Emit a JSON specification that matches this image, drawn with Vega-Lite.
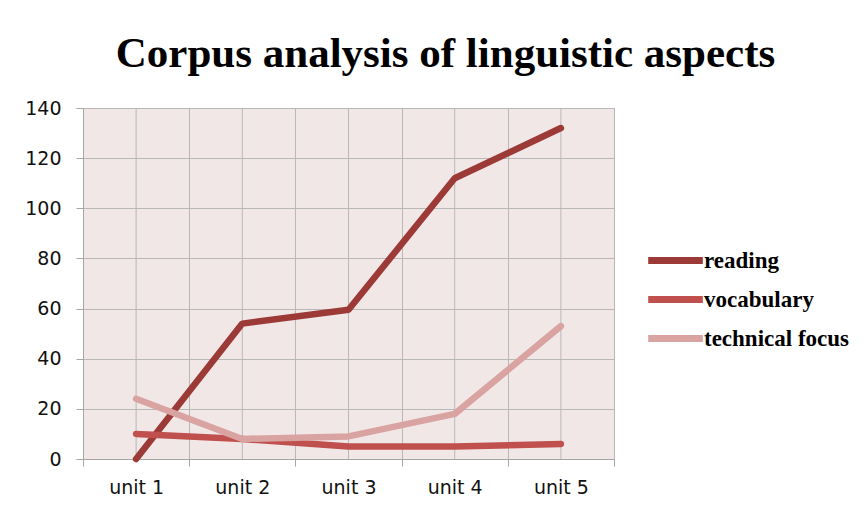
{
  "$schema": "https://vega.github.io/schema/vega-lite/v6.json",
  "width": 531,
  "height": 351,
  "autosize": {"type": "none"},
  "padding": {"left": 83, "top": 108, "right": 254, "bottom": 53},
  "background": "white",
  "title": {
    "text": "Corpus analysis of linguistic aspects",
    "font": "Liberation Serif",
    "fontSize": 43,
    "fontWeight": "bold",
    "color": "black",
    "anchor": "middle",
    "baseline": "alphabetic",
    "dx": 97,
    "offset": -11
  },
  "config": {
    "view": {"fill": "#f2e7e7", "stroke": "#a6a6a6"}
  },
  "data": {
    "values": [
      {"unit": "unit 1", "series": "reading", "value": 0},
      {"unit": "unit 2", "series": "reading", "value": 54},
      {"unit": "unit 3", "series": "reading", "value": 59.5},
      {"unit": "unit 4", "series": "reading", "value": 112},
      {"unit": "unit 5", "series": "reading", "value": 132},
      {"unit": "unit 1", "series": "vocabulary", "value": 10},
      {"unit": "unit 2", "series": "vocabulary", "value": 8},
      {"unit": "unit 3", "series": "vocabulary", "value": 5},
      {"unit": "unit 4", "series": "vocabulary", "value": 5},
      {"unit": "unit 5", "series": "vocabulary", "value": 6},
      {"unit": "unit 1", "series": "technical focus", "value": 24},
      {"unit": "unit 2", "series": "technical focus", "value": 8},
      {"unit": "unit 3", "series": "technical focus", "value": 9},
      {"unit": "unit 4", "series": "technical focus", "value": 18},
      {"unit": "unit 5", "series": "technical focus", "value": 53}
    ]
  },
  "layer": [
    {
      "transform": [{"filter": "datum.series === 'reading'"}],
      "mark": {"type": "rule", "color": "#b8b8b8", "strokeWidth": 1},
      "encoding": {
        "x": {"field": "unit", "type": "ordinal", "bandPosition": 0.5}
      }
    },
    {
      "mark": {"type": "line", "strokeWidth": 6.5, "strokeCap": "round", "strokeJoin": "round"},
      "encoding": {
        "x": {
          "field": "unit",
          "type": "ordinal",
          "bandPosition": 0.5,
          "scale": {"type": "band", "paddingInner": 0, "paddingOuter": 0},
          "axis": {
            "title": null,
            "labelAngle": 0,
            "labelAlign": "center",
            "tickBand": "extent",
            "grid": true,
            "gridColor": "#b8b8b8",
            "domainColor": "#a6a6a6",
            "tickColor": "#a6a6a6",
            "tickSize": 7,
            "labelFont": "DejaVu Sans",
            "labelFontSize": 19,
            "labelColor": "#111111",
            "labelPadding": 21
          }
        },
        "y": {
          "field": "value",
          "type": "quantitative",
          "scale": {"domain": [0, 140], "nice": false},
          "axis": {
            "title": null,
            "values": [0, 20, 40, 60, 80, 100, 120, 140],
            "grid": true,
            "gridColor": "#b8b8b8",
            "domainColor": "#a6a6a6",
            "tickColor": "#a6a6a6",
            "tickSize": 7,
            "labelFont": "DejaVu Sans",
            "labelFontSize": 19,
            "labelColor": "#111111",
            "labelPadding": 15
          }
        },
        "color": {
          "field": "series",
          "type": "nominal",
          "scale": {
            "domain": ["reading", "vocabulary", "technical focus"],
            "range": ["#9b3a37", "#c0504d", "#d9a3a2"]
          },
          "legend": {
            "title": null,
            "orient": "none",
            "legendX": 568,
            "legendY": 128,
            "padding": 0,
            "symbolType": "M-1.3,0H1.3",
            "symbolStrokeWidth": 7,
            "symbolSize": 1764,
            "symbolFillColor": "transparent",
            "labelFont": "Liberation Serif",
            "labelFontSize": 23,
            "labelFontWeight": "bold",
            "labelColor": "black",
            "labelOffset": 4,
            "rowPadding": -5
          }
        }
      }
    }
  ]
}
